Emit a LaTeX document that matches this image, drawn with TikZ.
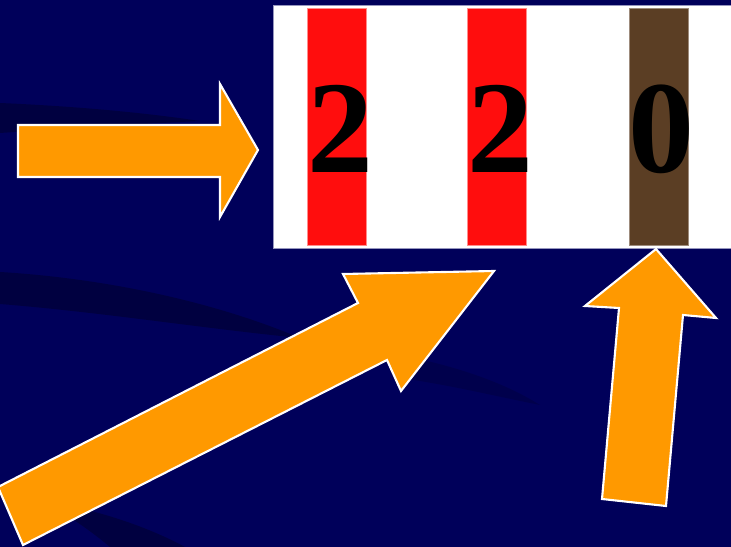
\documentclass[tikz,border=0pt]{standalone}
\usepackage{fontspec}
\setmainfont{Liberation Serif}
\definecolor{navy}{RGB}{0,0,90}
\definecolor{navydark}{RGB}{0,0,64}
\definecolor{arroworange}{RGB}{255,153,0}
\definecolor{bandred}{RGB}{255,13,13}
\definecolor{bandbrown}{RGB}{91,62,36}
\definecolor{paneledge}{RGB}{150,150,190}

\begin{document}
\begin{tikzpicture}[x=0.02cm, y=-0.02cm,
  swoosh/.style={fill=navydark, draw=none},
  blockarrow/.style={fill=arroworange, draw=white, line width=1.2pt, line join=miter},
  band/.style={minimum width=1.19cm, minimum height=4.75cm, inner sep=0pt, line width=0.5pt},
  digit/.style={font=\fontsize{75}{75}\selectfont\bfseries, anchor=base, inner sep=0pt, text=black}
]
\useasboundingbox (0,0) rectangle (731,547);
\fill[navy] (0,0) rectangle (731,547);

\fill[swoosh] (0,103) .. controls (70,106) and (140,112) .. (200,121)
  .. controls (140,124) and (70,128) .. (0,133) -- cycle;
\fill[swoosh] (0,272) .. controls (100,278) and (210,300) .. (300,338)
  .. controls (200,328) and (100,312) .. (0,304) -- cycle;
\fill[swoosh] (40,500) .. controls (100,510) and (150,528) .. (185,547)
  -- (110,547) .. controls (90,530) and (65,513) .. (40,500) -- cycle;
\fill[swoosh, opacity=0.5] (400,355) .. controls (450,365) and (500,380) .. (540,405)
  .. controls (490,395) and (450,385) .. (400,378) -- cycle;

\node[draw=paneledge, fill=white, anchor=north west, minimum width=9.3cm,
  minimum height=4.86cm, inner sep=0pt] (panel) at (273,5) {};

\node[band, fill=bandred, draw=red!45!white] (b1) at (337,127) {};
\node[band, fill=bandred, draw=red!45!white] (b2) at (497,127) {};
\node[band, fill=bandbrown, draw=bandbrown!60!white] (b3) at (659,127) {};

\node[digit] (d1) at (340,173) {2};
\node[digit] (d2) at (500,173) {2};
\node[digit] (d3) at (661,173) {0};

\draw[blockarrow] (18,125) -- (220,125) -- (220,84) -- (258,150) -- (220,217)
  -- (220,177) -- (18,177) -- cycle;
\draw[blockarrow] (-2,487) -- (358,303) -- (343,274) -- (494,271) -- (401,391)
  -- (387,360) -- (23,545) -- cycle;
\draw[blockarrow] (656,249) -- (716,318) -- (683,315) -- (666,506) -- (602,499)
  -- (619,308) -- (585,306) -- cycle;

\end{tikzpicture}
\end{document}
